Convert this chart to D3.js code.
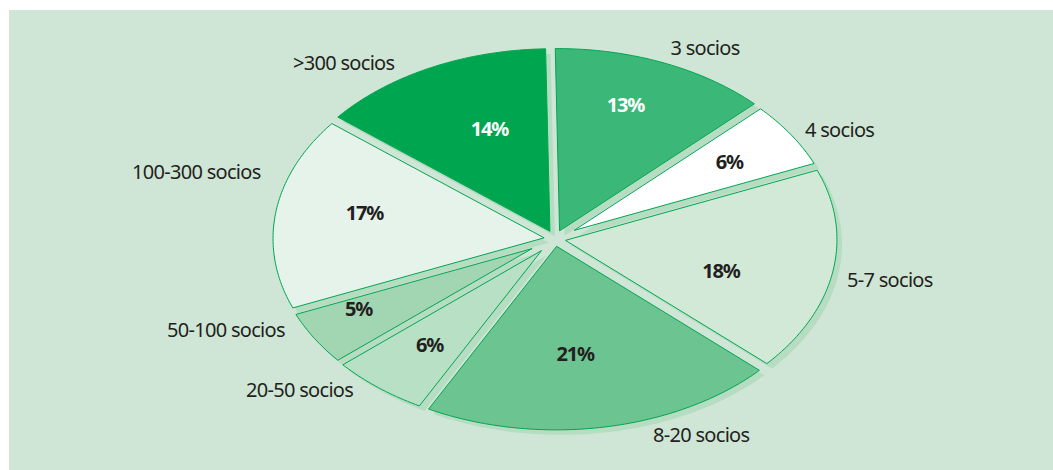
<!DOCTYPE html>
<html><head><meta charset="utf-8">
<script src="https://cdn.jsdelivr.net/npm/d3@7"></script>
<style>
html,body{margin:0;padding:0;background:#fff;}
svg{display:block;}
</style></head>
<body>
<svg id="chart" width="1053" height="470"></svg>
<script>
// ---- data ----
const categories = ["3 socios","4 socios","5-7 socios","8-20 socios","20-50 socios","50-100 socios","100-300 socios",">300 socios"];
const values = [13, 6, 18, 21, 6, 5, 17, 14];
const valueLabels = ["13%","6%","18%","21%","6%","5%","17%","14%"];

// ---- styling / layout ----
const fills = ["#3bb878","#ffffff","#d2e9d8","#6cc491","#b7e0c4","#a2d5b2","#e6f3ea","#00a64f"];
const pctColors = ["#ffffff","#231f20","#231f20","#231f20","#231f20","#231f20","#231f20","#ffffff"];
// label placement: [angle shift (deg) from slice bisector, radial fraction]
const pctPlace = [[-3,0.76],[0,0.75],[5.8,0.62],[3.2,0.62],[-0.2,0.725],[3.6,0.80],[3.5,0.70],[4.3,0.635]];
const outerPos = [[705,55,"middle"],[805,137,"start"],[847,287,"start"],[653,442,"start"],[246,397,"start"],[167,337,"start"],[132,179,"start"],[293,70,"start"]];

const W = 1053, H = 470;
const cx = 555, cy = 239, rx = 278, ry = 187;
const halfGap = 2.6, explode = 4, rot = -0.016;

const svg = d3.select("#chart");
svg.append("rect").attr("x",9).attr("y",10).attr("width",W-9).attr("height",H-10).attr("fill","#cfe6d6");

const pie = d3.pie().sort(null).value(d => d).startAngle(rot).endAngle(2*Math.PI + rot);
const arcs = pie(values);
const mid = a => (a.startAngle + a.endAngle) / 2;

// ellipse point (relative to centre) for pie angle t (0 = top, clockwise)
const ell = t => [rx*Math.sin(t), -ry*Math.cos(t)];
const unit = p => { const l = Math.hypot(p[0], p[1]); return [p[0]/l, p[1]/l]; };
const dot = (a,b) => a[0]*b[0] + a[1]*b[1];

function solve(f, lo, hi){ // f(lo)<0<f(hi)
  for (let i=0;i<50;i++){ const m=(lo+hi)/2; if (f(m)<0) lo=m; else hi=m; }
  return (lo+hi)/2;
}

// Slice outline in screen space with constant-width gaps
function slicePoints(a){
  const a0 = a.startAngle, a1 = a.endAngle, am = mid(a);
  const u0 = unit(ell(a0)), u1 = unit(ell(a1));
  const n0 = [-u0[1], u0[0]];   // inward normal of start edge
  const n1 = [u1[1], -u1[0]];   // inward normal of end edge
  const det = n0[0]*n1[1] - n0[1]*n1[0];
  const apex = [halfGap*(n1[1]-n0[1])/det, halfGap*(n0[0]-n1[0])/det];
  const t0 = solve(t => dot(ell(t), n0) - halfGap, a0, am);
  const t1 = solve(t => -(dot(ell(t), n1) - halfGap), am, a1);
  const n = Math.max(8, Math.ceil((t1 - t0) * 60));
  const pts = [apex];
  for (let i=0;i<=n;i++) pts.push(ell(t0 + (t1-t0)*i/n));
  const e = unit(ell(am));
  return pts.map(p => [p[0] + e[0]*explode, p[1] + e[1]*explode]);
}
const line = d3.line().curve(d3.curveLinearClosed);

// shadow
svg.append("g").attr("transform", `translate(${cx+5},${cy+5})`)
  .selectAll("path").data(arcs).join("path")
  .attr("d", d => line(slicePoints(d)))
  .attr("fill", "#b6ddc2");

// slices
svg.append("g").attr("transform", `translate(${cx},${cy})`)
  .selectAll("path").data(arcs).join("path")
  .attr("d", d => line(slicePoints(d)))
  .attr("fill", (d,i) => fills[i])
  .attr("stroke", "#00a651")
  .attr("stroke-width", 1)
  .attr("stroke-linejoin", "miter");

// percent labels
svg.append("g").selectAll("text").data(arcs).join("text")
  .attr("x", (d,i) => cx + rx*pctPlace[i][1]*Math.sin(mid(d) + pctPlace[i][0]*Math.PI/180))
  .attr("y", (d,i) => cy - ry*pctPlace[i][1]*Math.cos(mid(d) + pctPlace[i][0]*Math.PI/180))
  .attr("text-anchor","middle").attr("dy","0.36em")
  .attr("font-family","'Noto Sans', sans-serif").attr("font-weight","bold")
  .attr("font-size", 20).attr("letter-spacing", -1.2)
  .attr("fill", (d,i) => pctColors[i])
  .text((d,i) => valueLabels[i]);

// category labels
svg.append("g").selectAll("text").data(categories).join("text")
  .attr("x", (d,i) => outerPos[i][0])
  .attr("y", (d,i) => outerPos[i][1])
  .attr("text-anchor", (d,i) => outerPos[i][2])
  .attr("font-family","'Noto Sans', sans-serif")
  .attr("font-size", 20).attr("letter-spacing", -0.7)
  .attr("fill", "#231f20")
  .text(d => d);
</script>
</body></html>
